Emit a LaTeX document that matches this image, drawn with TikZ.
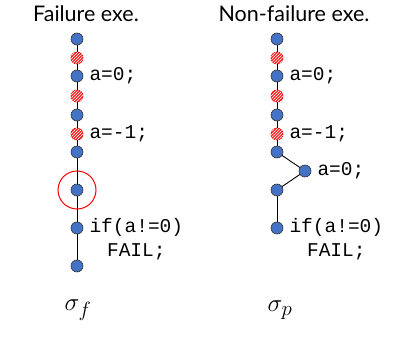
\documentclass[tikz,border=0pt]{standalone}
\usepackage{fontspec}
\setmainfont{Lato}
\setmonofont{Liberation Mono}
\usetikzlibrary{positioning, patterns}

\begin{document}
\begin{tikzpicture}[x=1pt, y=-1pt,
    bdot/.style={circle, draw=black!80, fill=nodeBlue, line width=0.6pt, inner sep=0pt, minimum size=12pt},
    hdot/.style={circle, draw=red!90!black, fill=red!85, line width=0.6pt, inner sep=0pt, minimum size=12pt,
        postaction={pattern=north east lines, pattern color=white}},
    code/.style={font=\fontsize{19.5}{22}\selectfont\ttfamily, inner sep=1pt, text height=12pt, text depth=3pt},
    title/.style={font=\fontsize{21.5}{25}\selectfont},
    link/.style={black, line width=0.9pt}]
    % Define colors
    \definecolor{nodeBlue}{HTML}{4472C4}

    % Fix the page size
    \useasboundingbox (0,0) rectangle (396,337);

    % Titles
    \node[title] (titleF) at (86,14) {Failure exe.};
    \node[title] (titleP) at (294,14) {Non-failure exe.};

    % Failure run
    \foreach \n/\y/\s in {1/39/bdot, 2/58/hdot, 3/76/bdot, 4/96/hdot, 5/115/bdot,
                          6/134/hdot, 7/152/bdot, 8/190/bdot, 9/228/bdot, 10/266/bdot}
        \node[\s] (f\n) at (77,\y) {};
    \foreach \a/\b in {1/2, 2/3, 3/4, 4/5, 5/6, 6/7, 7/8, 8/9, 9/10}
        \draw[link] (f\a) -- (f\b);

    % Non-failure run
    \foreach \n/\y/\s in {1/39/bdot, 2/58/hdot, 3/76/bdot, 4/96/hdot, 5/115/bdot,
                          6/134/hdot, 7/152/bdot}
        \node[\s] (p\n) at (277,\y) {};
    \node[bdot] (p8) at (305,171) {};
    \node[bdot] (p9) at (277,190) {};
    \node[bdot] (p10) at (277,228) {};
    \foreach \a/\b in {1/2, 2/3, 3/4, 4/5, 5/6, 6/7, 7/8, 8/9, 9/10}
        \draw[link] (p\a) -- (p\b);

    % Mark the diverging step
    \draw[red, line width=1pt] (f8.center) circle (19pt);

    % Statements
    \node[code, right=5pt of f3] (fa0) {a=0;};
    \node[code, right=5pt of f6] (fa1) {a=-1;};
    \node[code, right=5pt of f9] (fif) {if(a!=0)};
    \node[code, below=7pt of fif] (ffail) {FAIL;};
    \node[code, right=5pt of p3] (pa0) {a=0;};
    \node[code, right=5pt of p6] (pa1) {a=-1;};
    \node[code, right=5pt of p8] (pa2) {a=0;};
    \node[code, right=5pt of p10] (pif) {if(a!=0)};
    \node[code, below=7pt of pif] (pfail) {FAIL;};

    % Run names
    \node[font=\fontsize{30}{34}\selectfont] (sigF) at (78,310) {$\sigma_f$};
    \node[font=\fontsize{30}{34}\selectfont] (sigP) at (280,310) {$\sigma_p$};
\end{tikzpicture}
\end{document}
